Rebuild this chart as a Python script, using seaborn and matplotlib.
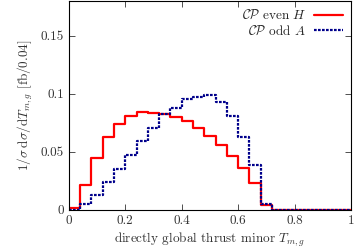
#!/usr/bin/env python3

import matplotlib

matplotlib.use("Agg")
import matplotlib.pyplot as plt
import numpy as np
import pandas
import seaborn as sns
from matplotlib.lines import Line2D

# Bin edges of the thrust minor distribution (width 0.04)
bin_edges = [round(0.04 * i, 2) for i in range(26)]

# Normalised distributions per bin
even_h = [0.002, 0.0215, 0.0444, 0.063, 0.074, 0.081, 0.0845, 0.0837, 0.0825,
          0.0797, 0.0768, 0.0708, 0.0639, 0.0559, 0.0464, 0.0358, 0.0229, 0.0043,
          0, 0, 0, 0, 0, 0, 0]
odd_a = [0.0, 0.005, 0.0129, 0.0244, 0.0352, 0.0473, 0.0596, 0.071, 0.0825,
         0.0874, 0.0954, 0.0977, 0.0989, 0.0931, 0.0808, 0.063, 0.0387, 0.005,
         0, 0, 0, 0, 0, 0, 0]

labels = [r"$\mathcal{CP}$ even $H$", r"$\mathcal{CP}$ odd $A$"]
xticks = [0, 0.2, 0.4, 0.6, 0.8, 1]
xticklabels = ["0", "0.2", "0.4", "0.6", "0.8", "1"]
yticks = [0, 0.05, 0.1, 0.15]
yticklabels = ["0", "0.05", "0.1", "0.15"]


def main():
    sns.set_style("ticks")
    plt.rcParams["font.family"] = ["cmr10", "DejaVu Serif"]
    plt.rcParams["mathtext.fontset"] = "cm"
    plt.rcParams["axes.unicode_minus"] = False
    plt.rcParams["axes.formatter.use_mathtext"] = True

    edges = np.array(bin_edges)
    centers = (edges[:-1] + edges[1:]) / 2
    df = pandas.DataFrame({"x": centers, "H": even_h, "A": odd_a})

    fig = plt.figure(figsize=(3.57, 2.52), dpi=100)
    ax = fig.add_axes([0.193, 0.167, 0.79, 0.829])

    sns.histplot(data=df, x="x", weights="H", bins=bin_edges, element="step",
                 fill=False, color="#ff0000", linewidth=1.6, ax=ax)
    sns.histplot(data=df, x="x", weights="A", bins=bin_edges, element="step",
                 fill=False, color="#00008b", linewidth=1.6,
                 linestyle=(0, (1.2, 0.6)), ax=ax)

    ax.set_xlim(0, 1)
    ax.set_ylim(0, 0.18)
    ax.set_xticks(xticks)
    ax.set_xticklabels(xticklabels, fontsize=9.5)
    ax.set_yticks(yticks)
    ax.set_yticklabels(yticklabels, fontsize=9.5)
    ax.tick_params(direction="in", top=True, right=True, length=4,
                   width=0.6, colors="#333333", labelcolor="#333333")
    for spine in ax.spines.values():
        spine.set_linewidth(0.8)
        spine.set_color("black")
    ax.set_xlabel(r"directly global thrust minor $T_{m,g}$", fontsize=9.5,
                  color="#333333", labelpad=3)
    ax.set_ylabel(r"$1/\sigma\;\mathrm{d}\sigma/\mathrm{d}T_{m,g}$ [fb/0.04]",
                  fontsize=9.5, color="#333333", labelpad=4)

    handles = [
        Line2D([], [], color="#ff0000", linewidth=1.6),
        Line2D([], [], color="#00008b", linewidth=1.6, linestyle=(0, (1.2, 0.6))),
    ]
    ax.legend(handles, labels, loc="upper right", frameon=False,
              markerfirst=False, fontsize=9.5, handlelength=2.2,
              borderaxespad=0.2, labelspacing=0.2, handletextpad=0.6)

    fig.savefig("out.png", dpi=100)


if __name__ == "__main__":
    main()
